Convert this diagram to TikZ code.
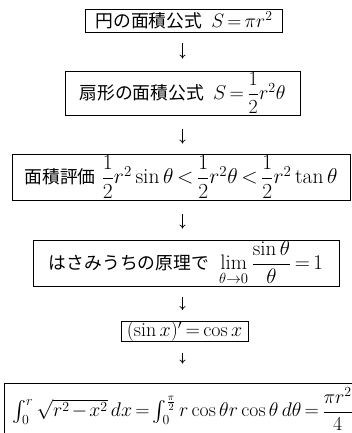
\RequirePackage{fix-cm}
\documentclass[tikz,border=0pt]{standalone}
\usepackage{amsmath}
\usepackage{fontspec}
\newfontfamily\cjk{Noto Sans CJK JP}
\usetikzlibrary{arrows.meta}
\newcommand\MMath[2]{\mbox{\fontsize{#1}{#1}\selectfont\thickmuskip=3mu\medmuskip=2mu$#2$}}
\begin{document}
\begin{tikzpicture}[x=1pt,y=-1pt,
  box/.style={draw, line width=0.8pt, inner sep=0pt, font=\fontsize{17.8}{21}\selectfont},
  arr/.style={-{To[length=4pt,width=6pt]}, line width=0.7pt}]
\useasboundingbox (0,0) rectangle (352,433);
\clip (0,0) rectangle (352,433);
\coordinate (ax) at (182.5,0);
\node[box, minimum width=197pt, minimum height=23pt] (b1) at (184,20.5)
  {{\cjk 円の面積公式}\hspace{9pt}\MMath{19.5}{S=\pi r^2}};
\node[box, minimum width=235pt, minimum height=44pt] (b2) at (182.5,93)
  {{\cjk 扇形の面積公式}\hspace{9pt}\MMath{20}{S=\dfrac{1}{2}r^2\theta}};
\node[box, minimum width=338pt, minimum height=46pt] (b3) at (181,177)
  {{\cjk 面積評価}\hspace{6pt}\MMath{21.5}{\dfrac{1}{2}r^2\sin\theta<\dfrac{1}{2}r^2\theta<\dfrac{1}{2}r^2\tan\theta}};
\node[box, minimum width=306pt, minimum height=46pt] (b4) at (186,263)
  {{\cjk はさみうちの原理で}\hspace{10pt}\MMath{21}{\lim\limits_{\theta\to0}\dfrac{\sin\theta}{\theta}=1}};
\node[box, minimum width=127pt, minimum height=18pt] (b5) at (184.5,331.5)
  {\MMath{20}{(\sin x)'=\cos x}};
\node[box, anchor=west, text width=350pt, align=left, inner xsep=8pt, minimum height=52pt] (b6) at (4,409)
  {\MMath{19.8}{\textstyle\int_0^r\sqrt{r^2-x^2}\,dx=\int_0^{\frac{\pi}{2}}r\cos\theta r\cos\theta\,d\theta=\dfrac{\pi r^2}{4}}};
\draw[arr, shorten <=11pt, shorten >=12pt] (b1.south -| ax) -- (b2.north -| ax);
\draw[arr, shorten <=14pt, shorten >=10pt] (b2.south -| ax) -- (b3.north -| ax);
\draw[arr, shorten <=14pt, shorten >=11pt] (b3.south -| ax) -- (b4.north -| ax);
\draw[arr, shorten <=11pt, shorten >=11pt] (b4.south -| ax) -- (b5.north -| ax);
\draw[arr, shorten <=11pt, shorten >=19pt] (b5.south -| ax) -- (b6.north -| ax);
\end{tikzpicture}
\end{document}
